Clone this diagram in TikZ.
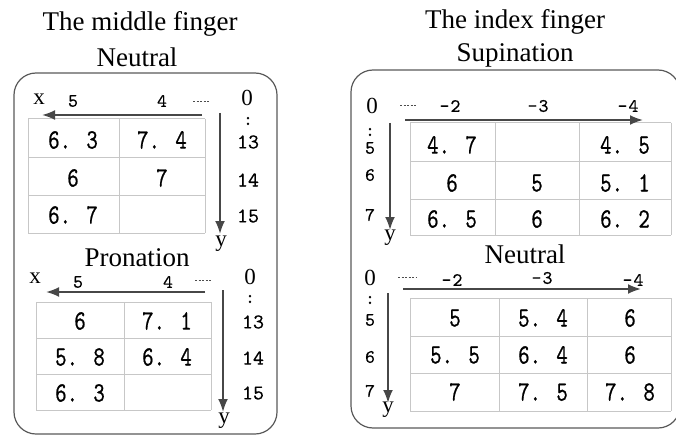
\documentclass[tikz,border=0pt]{standalone}
\usepackage{fontspec}
\setmainfont{Liberation Serif}
\newfontfamily\numfont[Extension=.otf,FakeStretch=0.78,FakeBold=0.6]{lmmono10-regular}
\newfontfamily\tickfont[Extension=.otf,FakeBold=0.4]{lmmono10-regular}
\usepackage{tikz}
\usetikzlibrary{arrows.meta}

\begin{document}
\begin{tikzpicture}[x=1pt,y=-1pt,
  frame/.style={draw=black!65,line width=1.2pt,rounded corners=22pt},
  grid/.style={draw=black!22,line width=1pt},
  axis/.style={draw=black!72,line width=2pt,-{Latex[length=13pt,width=10pt]}},
  title/.style={font=\fontsize{27}{27}\selectfont},
  lbl/.style={font=\fontsize{23}{23}\selectfont},
  tick/.style={font=\fontsize{19}{19}\selectfont\tickfont},
  row/.style={font=\fontsize{21}{21}\selectfont\tickfont},
  val/.style={font=\fontsize{28}{28}\selectfont\numfont},
  dots/.style={draw=black!70,line width=1pt,dash pattern=on 2pt off 1.5pt}]
\useasboundingbox (0,0) rectangle (676,438);
\clip (0,0) rectangle (676,438);

% the middle finger
\node[title] (tl1) at (140,24) {The middle finger};
\node[title] (tl2) at (137,57) {Neutral};
\draw[frame] (14,73) rectangle (277,434);

% neutral, middle finger
\foreach \x in {28,119,205} \draw[grid] (\x,119) -- (\x,233);
\foreach \y in {119,158,196,233} \draw[grid] (28,\y) -- (205,\y);
\node[lbl] (mx) at (39,99) {x};
\node[tick] (m5) at (73,101) {5};
\node[tick] (m4) at (162,101) {4};
\draw[dots] (193,102) -- (209,102);
\node[lbl] (m0) at (247,98) {0};
\node[tick] (mc) at (248,121) {:};
\node[row] (m13) at (248,142) {13};
\node[row] (m14) at (248,180) {14};
\node[row] (m15) at (248,216) {15};
\coordinate (mxs) at (202,115);
\coordinate (mxe) at (42,115);
\draw[axis] (mxs) -- (mxe);
\coordinate (mys) at (220,113);
\coordinate (mye) at (220,234);
\draw[axis] (mys) -- (mye);
\node[lbl] (my) at (221,244) {y};
\node[val] (n11) at (73,140) {6. 3};
\node[val] (n12) at (162,140) {7. 4};
\node[val] (n21) at (73,178) {6};
\node[val] (n22) at (162,178) {7};
\node[val] (n31) at (73,215) {6. 7};

% pronation, middle finger
\node[title] (pr) at (137,258) {Pronation};
\foreach \x in {36,124,211} \draw[grid] (\x,302) -- (\x,410);
\foreach \y in {302,338,374,410} \draw[grid] (36,\y) -- (211,\y);
\node[lbl] (px) at (35,278) {x};
\node[tick] (p5) at (78,282) {5};
\node[tick] (p4) at (168,282) {4};
\draw[dots] (195,280) -- (212,280);
\node[lbl] (p0) at (250,277) {0};
\node[tick] (pc) at (250,299) {:};
\node[row] (p13) at (253,322) {13};
\node[row] (p14) at (253,358) {14};
\node[row] (p15) at (253,393) {15};
\coordinate (pxs) at (205,292);
\coordinate (pxe) at (46,292);
\draw[axis] (pxs) -- (pxe);
\coordinate (pys) at (223,290);
\coordinate (pye) at (223,412);
\draw[axis] (pys) -- (pye);
\node[lbl] (py) at (224,421) {y};
\node[val] (q11) at (80,321) {6};
\node[val] (q12) at (167,321) {7. 1};
\node[val] (q21) at (80,357) {5. 8};
\node[val] (q22) at (167,357) {6. 4};
\node[val] (q31) at (80,393) {6. 3};

% the index finger
\node[title] (tr1) at (515,22) {The index finger};
\node[title] (tr2) at (515,55) {Supination};
\draw[frame] (351,70) rectangle (680,428);

% supination, index finger
\foreach \x in {410,495,579,671} \draw[grid] (\x,123) -- (\x,235);
\foreach \y in {123,162,200,235} \draw[grid] (410,\y) -- (671,\y);
\node[lbl] (s0) at (372,106) {0};
\draw[dots] (400,106) -- (417,106);
\node[tick] (s2) at (450,106) {\textendash\kern1pt2};
\node[tick] (s3) at (538,106) {\textendash\kern1pt3};
\node[tick] (s4) at (628,106) {\textendash\kern1pt4};
\node[tick] (sc) at (370,132) {:};
\node[tick] (s5) at (370,148) {5};
\node[tick] (s6) at (370,175) {6};
\node[tick] (s7) at (370,215) {7};
\coordinate (sxs) at (405,120);
\coordinate (sxe) at (643,120);
\draw[axis] (sxs) -- (sxe);
\coordinate (sys) at (390,123);
\coordinate (sye) at (390,230);
\draw[axis] (sys) -- (sye);
\node[lbl] (sy) at (390,238) {y};
\node[val] (u11) at (452,145) {4. 7};
\node[val] (u13) at (625,145) {4. 5};
\node[val] (u21) at (452,183) {6};
\node[val] (u22) at (537,183) {5};
\node[val] (u23) at (625,183) {5. 1};
\node[val] (u31) at (452,219) {6. 5};
\node[val] (u32) at (537,219) {6};
\node[val] (u33) at (625,219) {6. 2};

% neutral, index finger
\node[title] (ne) at (525,254) {Neutral};
\foreach \x in {410,499,587,671} \draw[grid] (\x,298) -- (\x,411);
\foreach \y in {298,336,373,411} \draw[grid] (410,\y) -- (671,\y);
\node[lbl] (r0) at (370,278) {0};
\draw[dots] (398,277) -- (416,277);
\node[tick] (r2) at (452,280) {\textendash\kern1pt2};
\node[tick] (r3) at (542,278) {\textendash\kern1pt3};
\node[tick] (r4) at (633,280) {\textendash\kern1pt4};
\node[tick] (rc) at (370,300) {:};
\node[tick] (r5) at (370,320) {5};
\node[tick] (r6) at (370,357) {6};
\node[tick] (r7) at (370,391) {7};
\coordinate (rxs) at (403,289);
\coordinate (rxe) at (641,289);
\draw[axis] (rxs) -- (rxe);
\coordinate (rys) at (388,293);
\coordinate (rye) at (388,403);
\draw[axis] (rys) -- (rye);
\node[lbl] (ry) at (388,410) {y};
\node[val] (v11) at (455,318) {5};
\node[val] (v12) at (543,318) {5. 4};
\node[val] (v13) at (630,318) {6};
\node[val] (v21) at (455,355) {5. 5};
\node[val] (v22) at (543,355) {6. 4};
\node[val] (v23) at (630,355) {6};
\node[val] (v31) at (455,392) {7};
\node[val] (v32) at (543,392) {7. 5};
\node[val] (v33) at (630,392) {7. 8};
\end{tikzpicture}
\end{document}
